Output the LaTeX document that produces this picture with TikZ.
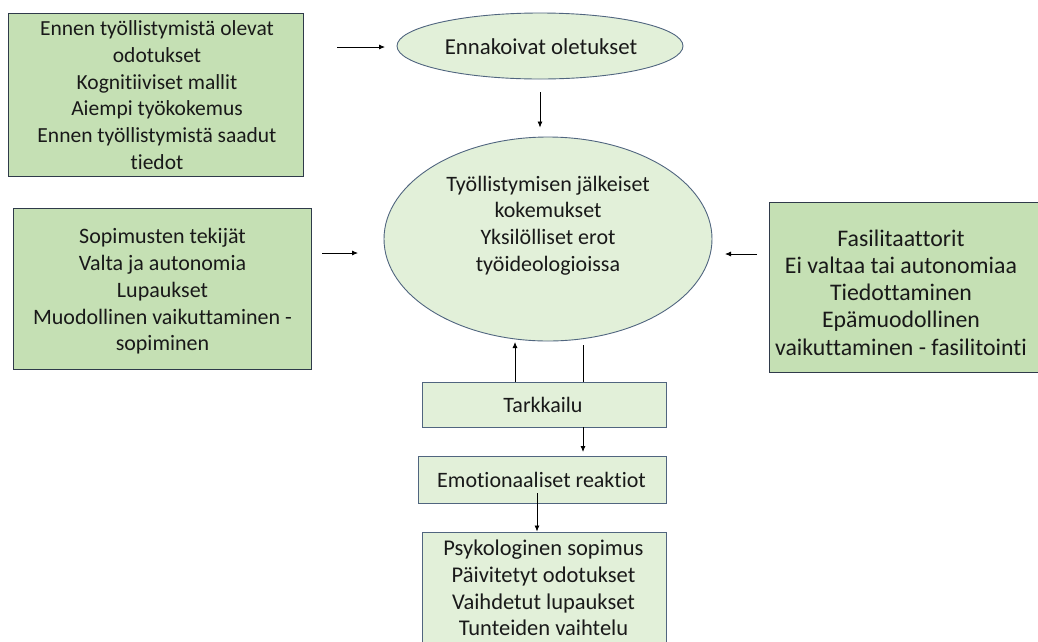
\documentclass[tikz,border=0pt]{standalone}
\usepackage{fontspec}
\setmainfont{Carlito}[Ligatures={NoCommon}]
\usetikzlibrary{shapes.geometric,arrows.meta}
\definecolor{darkfill}{HTML}{C5E0B4}
\definecolor{lightfill}{HTML}{E2F0D9}
\definecolor{darkline}{HTML}{2F3A4A}
\definecolor{blueline}{HTML}{50657F}
\tikzset{
  x=1pt,y=-1pt,
  darkbox/.style={draw=darkline,fill=darkfill,line width=0.9pt,inner sep=0pt},
  lightbox/.style={draw=blueline,fill=lightfill,line width=0.9pt,inner sep=0pt},
  oval/.style={ellipse,draw=blueline,fill=lightfill,line width=0.9pt,inner sep=0pt},
  txt/.style={align=center,font=\fontsize{22}{26.7}\selectfont,inner sep=0pt,text=black!90},
  arr/.style={-{Latex[length=6pt,width=5pt]},line width=0.8pt},
  ln/.style={line width=0.8pt}
}
\begin{document}
\begin{tikzpicture}
\useasboundingbox (0,0) rectangle (1038,641);
\clip (0,0) rectangle (1038,641);
% shapes
\node[darkbox,minimum width=295,minimum height=163] (pre) at (155.5,94.5) {};
\node[txt,font=\fontsize{21.5}{26.7}\selectfont] (pretxt) at (157,95) {Ennen työllistymistä olevat\\odotukset\\Kognitiiviset mallit\\Aiempi työkokemus\\Ennen työllistymistä saadut\\tiedot};
\node[oval,minimum width=286,minimum height=66] (ant) at (540,46) {};
\node[txt,font=\fontsize{22.8}{27}\selectfont] (anttxt) at (541,47) {Ennakoivat oletukset};
\node[oval,minimum width=328,minimum height=204] (exp) at (548,239) {};
\node[txt] (exptxt) at (548,225.5) {Työllistymisen jälkeiset\\kokemukset\\Yksilölliset erot\\työideologioissa};
\node[darkbox,minimum width=298,minimum height=161] (con) at (162.5,288.5) {};
\node[txt] (contxt) at (162.5,291.5) {Sopimusten tekijät\\Valta ja autonomia\\Lupaukset\\Muodollinen vaikuttaminen -\\sopiminen};
\node[darkbox,minimum width=270,minimum height=170] (fac) at (904,287) {};
\node[txt,font=\fontsize{23.8}{27.3}\selectfont] (factxt) at (901,292.5) {Fasilitaattorit\\Ei valtaa tai autonomiaa\\Tiedottaminen\\Epämuodollinen\\vaikuttaminen - fasilitointi};
\node[lightbox,minimum width=244,minimum height=45] (mon) at (544,404.5) {};
\node[txt] (montxt) at (543,404.5) {Tarkkailu};
\node[lightbox,minimum width=248,minimum height=47] (emo) at (542,479.5) {};
\node[txt] (emotxt) at (541.5,480) {Emotionaaliset reaktiot};
\node[lightbox,minimum width=244,minimum height=130] (psy) at (544,597) {};
\node[txt,font=\fontsize{22.5}{26.7}\selectfont] (psytxt) at (543.5,588) {Psykologinen sopimus\\Päivitetyt odotukset\\Vaihdetut lupaukset\\Tunteiden vaihtelu};
% connectors
\coordinate (a1s) at (337,47);
\coordinate (a1e) at (385,47);
\draw[arr] (a1s) -- (a1e);
\draw[arr] ([yshift=-13pt]ant.south) -- ([yshift=9pt]exp.north -| ant.south);
\coordinate (a3s) at (322,253);
\coordinate (a3e) at (358,253);
\draw[arr] (a3s) -- (a3e);
\coordinate (a4s) at (757,254);
\coordinate (a4e) at (725,254);
\draw[arr] (a4s) -- (a4e);
\coordinate (upx) at (515,0);
\draw[arr] (mon.north -| upx) -- (upx |- 0,342);
\coordinate (dnx) at (583,0);
\draw[ln] (dnx |- 0,345) -- (mon.north -| dnx);
\draw[arr] (mon.south -| dnx) -- (dnx |- 0,452);
\coordinate (emx) at (537,493);
\draw[arr] (emx) -- (psy.north -| emx);
\end{tikzpicture}
\end{document}
